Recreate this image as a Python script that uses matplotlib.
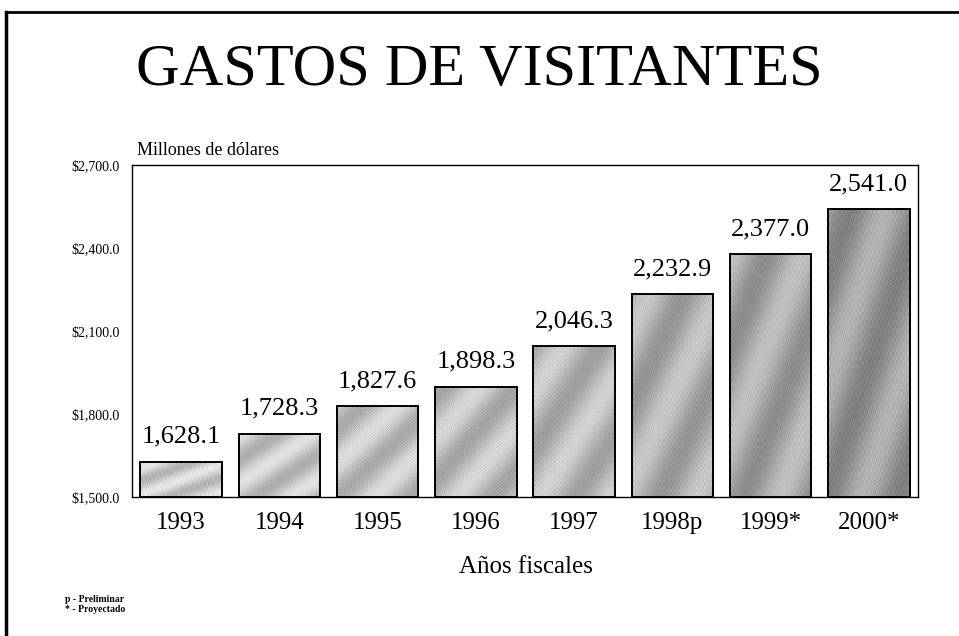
import numpy as np
import matplotlib.pyplot as plt
from matplotlib.lines import Line2D

years = ['1993', '1994', '1995', '1996', '1997', '1998p', '1999*', '2000*']
gastos = [1628.1, 1728.3, 1827.6, 1898.3, 2046.3, 2232.9, 2377.0, 2541.0]
y_ticks = [1500, 1800, 2100, 2400, 2700]
bar_grays = [0.80, 0.78, 0.76, 0.74, 0.72, 0.68, 0.65, 0.60]

plt.rcParams['font.family'] = ['Liberation Serif', 'DejaVu Serif']

fig = plt.figure(figsize=(9.59, 6.36), dpi=100)
ax = fig.add_axes([132 / 959, 1 - 497 / 636, 786 / 959, 332 / 636])

x = np.arange(len(years))
bars = ax.bar(x, gastos, width=0.83, bottom=0, color='none',
              edgecolor='black', linewidth=1.4, zorder=3)

# textura moteada en diagonal dentro de cada barra
gy, gx = np.mgrid[0:120, 0:60]
for i, (b, g) in enumerate(zip(bars, bar_grays)):
    band = np.sin((gx * 0.12 + gy * 0.07) + i * 1.3)
    tex = g + 0.10 * band + 0.04 * np.sin(gx * 2.1) * np.sin(gy * 1.7)
    tex = np.clip(tex, 0, 1)
    im = ax.imshow(tex, cmap='gray', vmin=0, vmax=1, aspect='auto',
                   extent=(b.get_x(), b.get_x() + b.get_width(), 1500, b.get_height()),
                   zorder=2, interpolation='nearest')
    im.set_clip_path(b)
    ax.add_patch(plt.Rectangle((b.get_x(), 1500), b.get_width(), b.get_height() - 1500,
                               fill=False, edgecolor='black', linewidth=1.4, zorder=4))
    b.set_visible(False)

for xi, v in zip(x, gastos):
    ax.annotate(f'{v:,.1f}', (xi, v), xytext=(0, 10), textcoords='offset points',
                ha='center', va='bottom', fontsize=19)

ax.set_xlim(-0.5, len(years) - 0.5)
ax.set_ylim(1500, 2700)
ax.set_yticks(y_ticks)
ax.set_yticklabels([f'${t:,.1f}' for t in y_ticks], fontsize=10)
ax.set_xticks(x)
ax.set_xticklabels(years, fontsize=18)
ax.tick_params(axis='both', length=0)
ax.tick_params(axis='x', pad=11)
ax.tick_params(axis='y', pad=9)
for s in ax.spines.values():
    s.set_linewidth(1.0)

fig.text(0.5, 1 - 71 / 636, 'GASTOS DE VISITANTES', ha='center', va='center', fontsize=43.5)
fig.text(137 / 959, 1 - 150 / 636, 'Millones de dólares', ha='left', va='center', fontsize=13)
fig.text(526 / 959, 1 - 567 / 636, 'Años fiscales', ha='center', va='center', fontsize=18)
fig.text(65 / 959, 1 - 599 / 636, 'p - Preliminar', ha='left', va='center', fontsize=7, fontweight='bold')
fig.text(65 / 959, 1 - 609 / 636, '* - Proyectado', ha='left', va='center', fontsize=7, fontweight='bold')

# marco exterior del documento
fig.add_artist(Line2D([6 / 959, 6 / 959], [0, 1 - 12 / 636], color='black', linewidth=2.5))
fig.add_artist(Line2D([6 / 959, 1], [1 - 12 / 636, 1 - 12 / 636], color='black', linewidth=2.0))

fig.savefig('out.png', dpi=100)
